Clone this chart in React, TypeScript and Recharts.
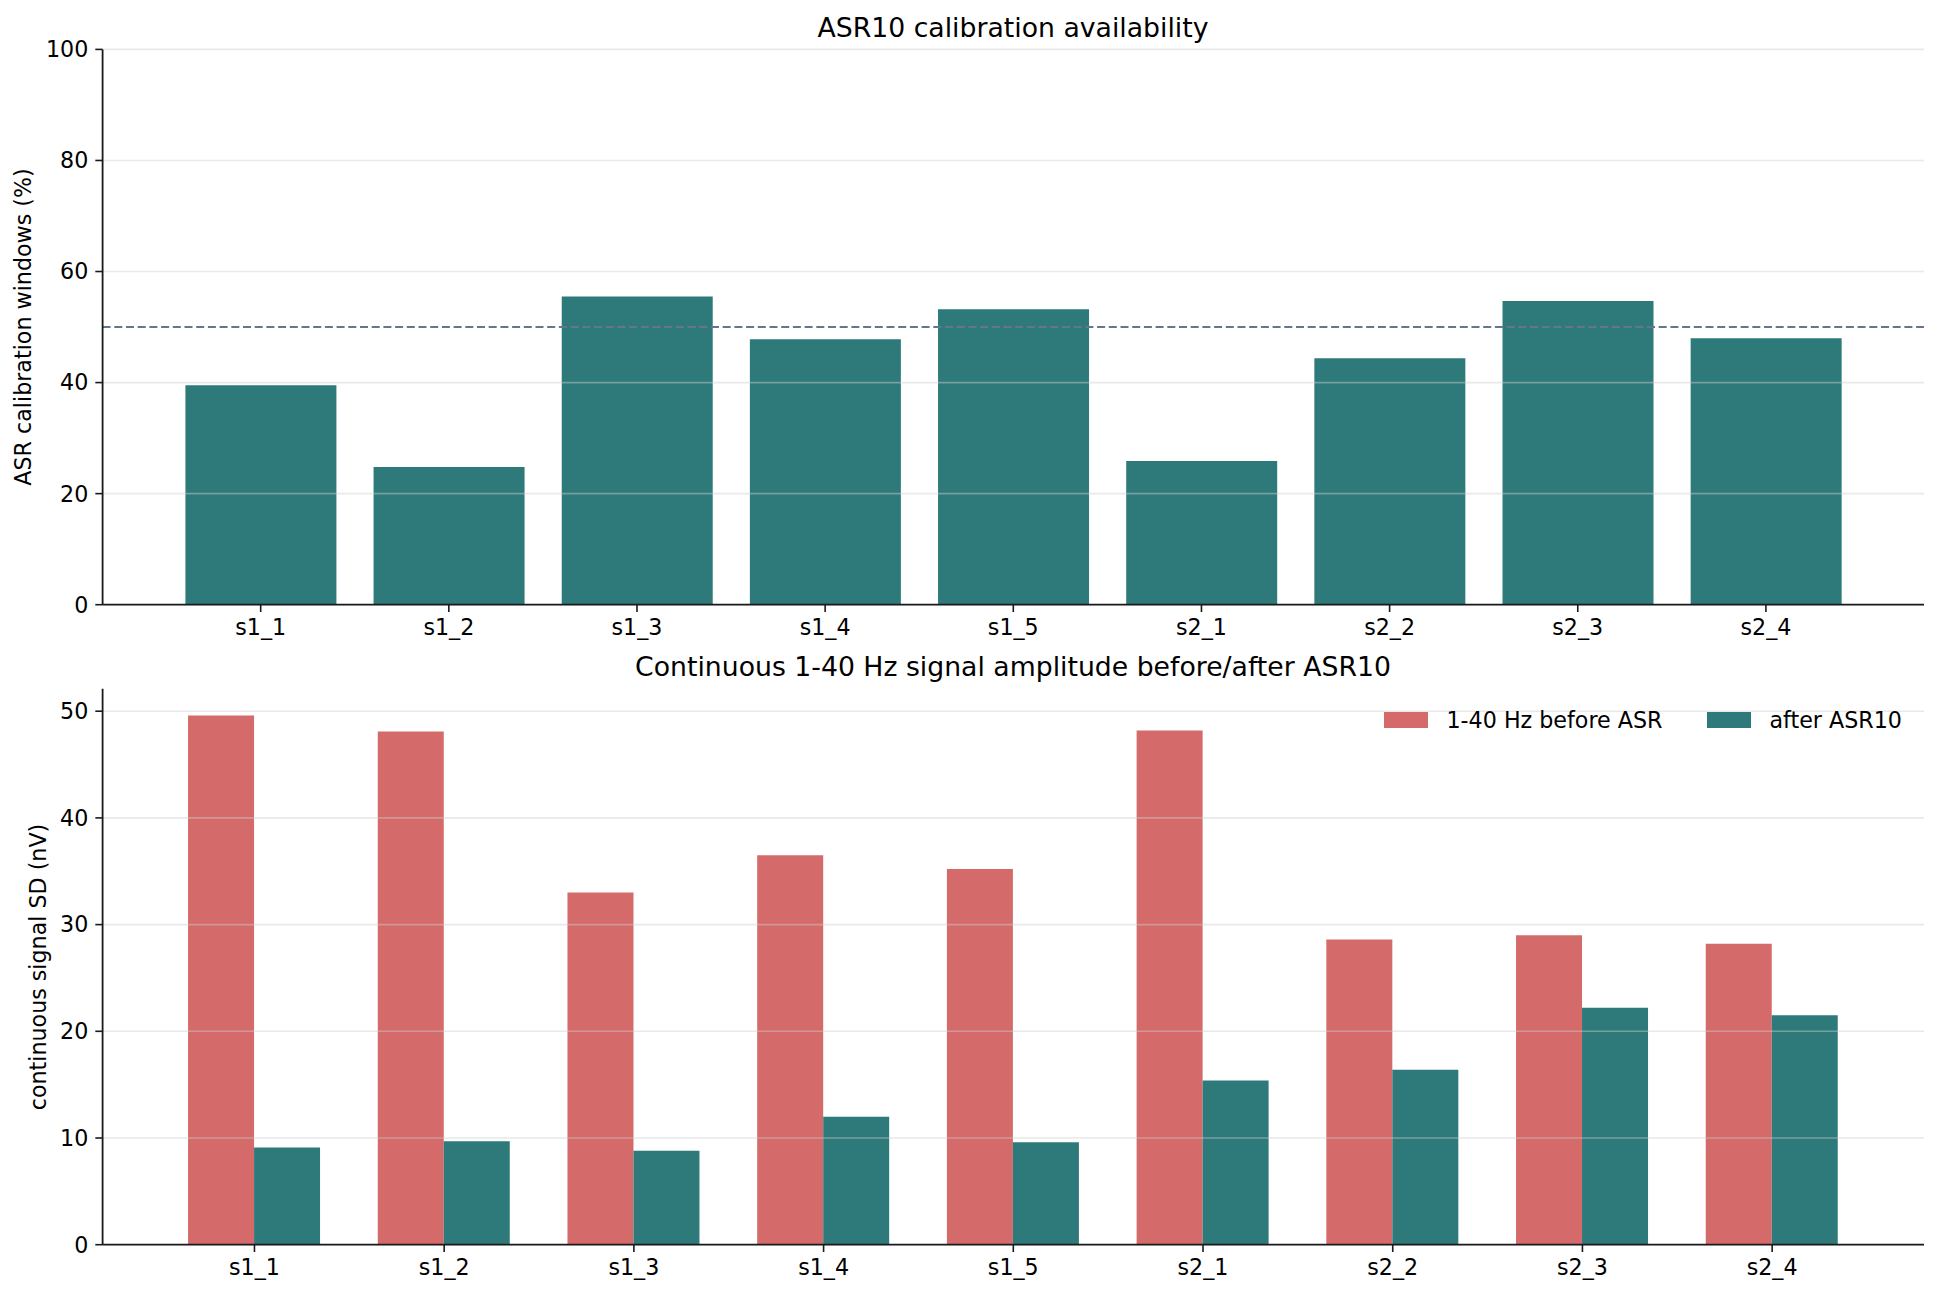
import { BarChart, Bar, XAxis, YAxis, ReferenceLine } from "recharts"

const sessions = ["s1_1", "s1_2", "s1_3", "s1_4", "s1_5", "s2_1", "s2_2", "s2_3", "s2_4"]
const calibrationPct = [39.5, 24.8, 55.5, 47.8, 53.2, 25.9, 44.4, 54.7, 48.0]
const calibrationTicks = [0, 20, 40, 60, 80, 100]
const calibrationThreshold = 50

const sdBefore = [49.6, 48.1, 33.0, 36.5, 35.2, 48.2, 28.6, 29.0, 28.2]
const sdAfter = [9.1, 9.7, 8.8, 12.0, 9.6, 15.4, 16.4, 22.2, 21.5]
const sdTicks = [0, 10, 20, 30, 40, 50]
const sdMax = 52.1

const RED = "#d46a6a"
const TEAL = "#2e7a7b"
const FONT = "DejaVu Sans"
const AXIS = "#1a1a1a"
const LABEL_SIZE = 22.2
const TITLE_SIZE = 26.7

const sdSeries = [
  { key: "before", name: "1-40 Hz before ASR", color: RED, legendX: 1384 },
  { key: "after", name: "after ASR10", color: TEAL, legendX: 1707 },
]

const calibrationData = sessions.map((name, i) => ({ name, pct: calibrationPct[i] }))
const sdData = sessions.map((name, i) => ({ name, before: sdBefore[i], after: sdAfter[i] }))

const tickStyle = { fill: "#000", fontSize: LABEL_SIZE, fontFamily: FONT }

// light horizontal grid, drawn over the bars like matplotlib's axes grid
function gridLines(ticks: number[]) {
  return ticks.map((t) => (
    <ReferenceLine key={`grid-${t}`} y={t} stroke="#cfcfcf" strokeOpacity={0.45} strokeWidth={1.6} />
  ))
}

export default function App() {
  return (
    <div style={{ position: "absolute", left: 0, top: 0, width: 1938, height: 1298, background: "#fff", fontFamily: FONT }}>
      <div style={{ position: "absolute", left: 0, top: 0 }}>
        <BarChart
          width={1938}
          height={650}
          data={calibrationData}
          margin={{ top: 49.4, right: 14, left: 42.6, bottom: 5.3 }}
          barCategoryGap="10%"
        >
          <XAxis
            dataKey="name"
            interval={0}
            padding={{ left: 64, right: 64 }}
            height={40}
            tickSize={7.3}
            tickMargin={7}
            tick={tickStyle}
            axisLine={{ stroke: AXIS, strokeWidth: 1.8 }}
            tickLine={{ stroke: AXIS, strokeWidth: 1.6 }}
          />
          <YAxis
            type="number"
            domain={[0, 100]}
            ticks={calibrationTicks}
            width={60}
            tickSize={7.3}
            tickMargin={7}
            tick={tickStyle}
            axisLine={{ stroke: AXIS, strokeWidth: 1.8 }}
            tickLine={{ stroke: AXIS, strokeWidth: 1.6 }}
          />
          <Bar dataKey="pct" fill={TEAL} isAnimationActive={false} />
          {gridLines(calibrationTicks)}
          <ReferenceLine
            y={calibrationThreshold}
            stroke="#66758f"
            strokeWidth={2}
            strokeDasharray="8 3.7"
          />
        </BarChart>
      </div>

      <div style={{ position: "absolute", left: 0, top: 650 }}>
        <BarChart
          width={1938}
          height={648}
          data={sdData}
          margin={{ top: 38.8, right: 14, left: 42.6, bottom: 13.3 }}
          barCategoryGap="15%"
          barGap={0}
        >
          <XAxis
            dataKey="name"
            interval={0}
            padding={{ left: 57, right: 57 }}
            height={40}
            tickSize={7.3}
            tickMargin={7}
            tick={tickStyle}
            axisLine={{ stroke: AXIS, strokeWidth: 1.8 }}
            tickLine={{ stroke: AXIS, strokeWidth: 1.6 }}
          />
          <YAxis
            type="number"
            domain={[0, sdMax]}
            ticks={sdTicks}
            width={60}
            tickSize={7.3}
            tickMargin={7}
            tick={tickStyle}
            axisLine={{ stroke: AXIS, strokeWidth: 1.8 }}
            tickLine={{ stroke: AXIS, strokeWidth: 1.6 }}
          />
          {sdSeries.map((s) => (
            <Bar key={s.key} dataKey={s.key} name={s.name} fill={s.color} isAnimationActive={false} />
          ))}
          {gridLines(sdTicks)}
        </BarChart>
      </div>

      {/* titles, axis labels and legend */}
      <svg
        width={1938}
        height={1298}
        style={{ position: "absolute", left: 0, top: 0, pointerEvents: "none" }}
        fontFamily={FONT}
      >
        <text x={1013} y={37} textAnchor="middle" fontSize={TITLE_SIZE} fill="#000">
          ASR10 calibration availability
        </text>
        <text x={1013} y={676} textAnchor="middle" fontSize={TITLE_SIZE} fill="#000">
          Continuous 1-40 Hz signal amplitude before/after ASR10
        </text>
        <text
          x={23}
          y={327}
          transform="rotate(-90 23 327)"
          textAnchor="middle"
          dominantBaseline="central"
          fontSize={LABEL_SIZE}
          fill="#000"
        >
          ASR calibration windows (%)
        </text>
        <text
          x={38}
          y={967}
          transform="rotate(-90 38 967)"
          textAnchor="middle"
          dominantBaseline="central"
          fontSize={LABEL_SIZE}
          fill="#000"
        >
          continuous signal SD (nV)
        </text>
        {sdSeries.map((s) => (
          <g key={s.key}>
            <rect x={s.legendX} y={712} width={44} height={16} fill={s.color} />
            <text x={s.legendX + 62.5} y={728} fontSize={LABEL_SIZE} fill="#000">
              {s.name}
            </text>
          </g>
        ))}
      </svg>
    </div>
  )
}
